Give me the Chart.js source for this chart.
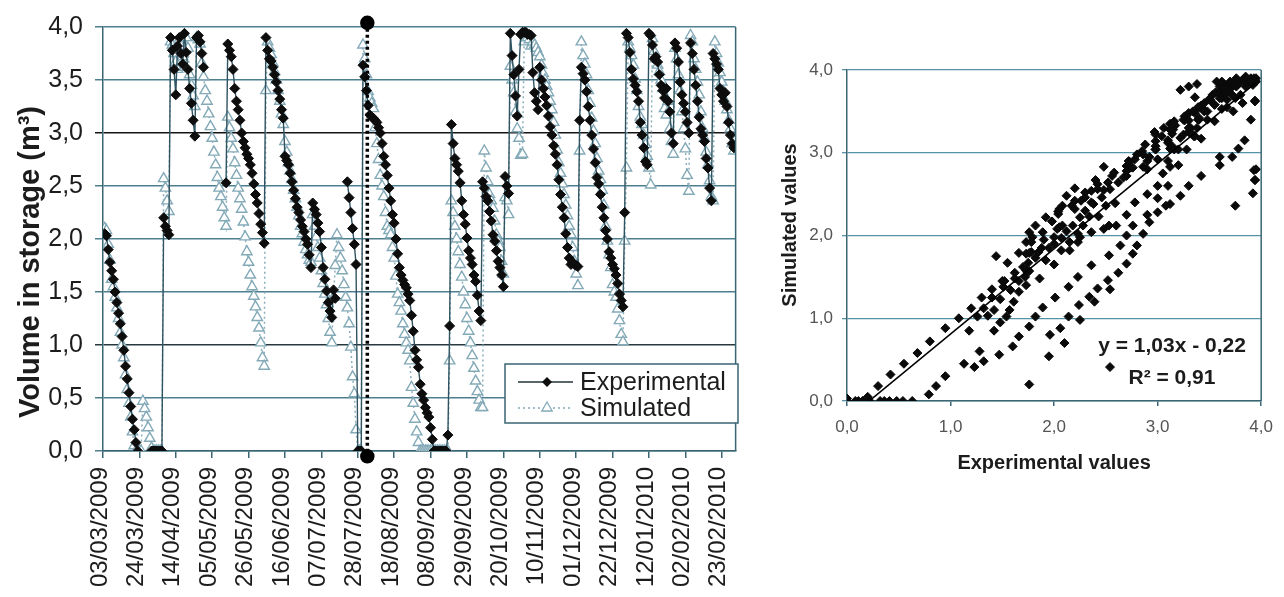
<!DOCTYPE html>
<html>
<head>
<meta charset="utf-8">
<title>Volume in storage</title>
<script src="https://cdn.jsdelivr.net/npm/chart.js@4.4.1/dist/chart.umd.min.js"></script>
<style>
    body { margin: 0; background: #fff; width: 1284px; height: 597px; overflow: hidden; position: relative; }
    #serieCanvas { position: absolute; left: 0; top: 0; }
    #ajusteCanvas { position: absolute; left: 770px; top: 0; }
</style>
</head>
<body>
<canvas id="serieCanvas" width="760" height="597"></canvas>
<canvas id="ajusteCanvas" width="514" height="480"></canvas>
<script>
(() => {

    // x axis labels, one every 21 days starting on 03/03/2009 (day 0)
    const tickLabels = ["03/03/2009", "24/03/2009", "14/04/2009", "05/05/2009", "26/05/2009", "16/06/2009",
        "07/07/2009", "28/07/2009", "18/08/2009", "08/09/2009", "29/09/2009", "20/10/2009",
        "10/11/2009", "01/12/2009", "22/12/2009", "12/01/2010", "02/02/2010", "23/02/2010"];
    const tickStep = 21;

    // daily volume (m3), index = day since 03/03/2009, null = no value
    const expVol = [
        null, 2.05, 2.03, 1.90, 1.78, 1.70, 1.62, 1.50, 1.40, 1.30,   // 0
        1.20, 1.08, 0.95, 0.80, 0.68, 0.55, 0.42, 0.30, 0.20, 0.08,   // 10
        0, null, null, null, null, null, null, null, 0, 0,            // 20
        0, 0, 0, 0, 0, 2.20, 2.12, 2.08, 2.04, 3.90,                  // 30
        3.78, 3.60, 3.36, 3.82, 3.90, 3.75, 3.65, 3.94, 3.76, 3.60,   // 40
        3.42, 3.28, 3.12, 2.97, 3.90, 3.92, 3.86, 3.75, 3.62, null,   // 50
        null, null, null, null, null, null, null, null, null, null,   // 60
        null, 2.53, 3.84, 3.78, 3.72, 3.60, 3.42, 3.30, 3.22, 3.12,   // 70
        3.00, 2.92, 2.86, 2.80, 2.76, 2.70, 2.62, 2.52, 2.42, 2.34,   // 80
        2.24, 2.14, 2.06, 1.96, 3.90, 3.78, 3.70, 3.68, 3.62, 3.55,   // 90
        3.48, 3.40, 3.32, 3.22, 3.14, 2.78, 2.74, 2.70, 2.62, 2.54,   // 100
        2.46, 2.38, 2.30, 2.25, 2.18, 2.12, 2.07, 2.00, 1.95, 1.85,   // 110
        1.73, 2.34, 2.28, 2.23, 2.15, 2.07, 1.92, 1.73, 1.62, 1.51,   // 120
        1.40, 1.32, 1.26, 1.52, 1.44, null, null, null, null, null,   // 130
        null, 2.54, 2.39, 2.25, 2.10, 1.95, 1.76, 0, 0, 0,            // 140
        3.64, 3.53, 3.40, 3.26, 3.17, 3.15, 3.14, 3.12, 3.10, 3.05,   // 150
        3.00, 2.90, 2.78, 2.70, 2.60, 2.48, 2.36, 2.23, 2.15, 2.00,   // 160
        1.86, 1.73, 1.66, 1.61, 1.57, 1.54, 1.48, 1.42, 1.28, 1.13,   // 170
        0.95, 0.86, 0.79, 0.63, 0.54, 0.48, 0.41, 0.36, 0.32, 0.22,   // 180
        0.11, 0, 0, 0, 0, 0, 0, 0, 0, 0.15,                           // 190
        1.18, 3.08, 2.90, 2.76, 2.70, 2.64, 2.53, 2.36, 2.23, 2.14,   // 200
        2.01, 1.89, 1.82, 1.76, 1.66, 1.60, 1.47, 1.32, 1.23, 2.54,   // 210
        2.48, 2.40, 2.36, 2.26, 2.17, 2.04, 1.98, 1.89, 1.79, 1.73,   // 220
        1.66, 1.55, 2.59, 2.50, 2.43, 3.94, 3.73, 3.55, 3.35, 3.16,   // 230
        3.60, 3.93, 3.95, 3.95, 3.95, 3.93, 3.93, 3.92, 3.57, 3.38,   // 240
        3.30, 3.22, 3.62, 3.50, 3.42, 3.34, 3.26, 3.16, 3.06, 2.98,   // 250
        2.88, 2.80, 2.70, 2.56, 2.42, 2.30, 2.20, 2.05, 1.92, 1.82,   // 260
        1.76, 1.78, 1.76, 1.75, 1.74, 3.12, 3.62, 3.56, 3.50, 3.39,   // 270
        3.25, 3.12, 2.98, 2.85, 2.72, 2.58, 2.52, 2.42, 2.30, 2.20,   // 280
        2.08, 2.00, 1.88, 1.82, 1.76, 1.72, 1.66, 1.58, 1.48, 1.42,   // 290
        1.36, 2.25, 3.94, 3.90, 3.76, 3.60, 3.51, 3.45, 3.39, 3.30,   // 300
        3.10, 2.98, 2.86, 2.73, 2.70, 3.94, 3.92, 3.83, 3.70, 3.72,   // 310
        3.67, 3.55, 3.45, 3.40, 3.33, 3.42, 3.30, 3.20, 3.00, 2.90,   // 320
        3.85, 3.80, 3.67, 3.48, 3.36, 3.28, 3.20, 3.10, 3.00, 3.85,   // 330
        3.75, 3.60, 3.45, 3.30, 3.15, 3.04, 2.98, 2.92, 2.76, 2.67,   // 340
        2.48, 2.36, 3.75, 3.70, 3.65, 3.60, 3.42, 3.36, 3.30, 3.38,   // 350
        3.25, 3.10, 2.98, 2.90, 2.86                                  // 360
    ];

    const simVol = [
        null, 2.10, 2.08, 1.95, 1.80, 1.62, 1.55, 1.45, 1.35, 1.25,   // 0
        1.12, 1.00, 0.88, 0.72, 0.58, 0.45, 0.32, 0.18, 0.05, 0,      // 10
        0, 0, 0, 0.47, 0.40, 0.32, 0.22, 0.12, 0.03, 0,               // 20
        0, 0, 0, 0, 0, 2.57, 2.48, 2.36, 2.26, 3.86,                  // 30
        3.83, 3.75, 3.67, 3.60, 3.88, 3.82, 3.72, 3.62, 3.90, 3.80,   // 40
        3.55, 3.45, 3.35, 3.25, 3.90, 3.88, 3.84, 3.66, 3.53, 3.40,   // 50
        3.30, 3.18, 3.06, 2.95, 2.82, 2.70, 2.58, 2.48, 2.40, 2.30,   // 60
        2.20, 2.12, 3.15, 3.05, 2.95, 2.85, 2.72, 2.60, 2.48, 2.38,   // 70
        2.28, 2.16, 2.02, 1.88, 1.78, 1.66, 1.55, 1.46, 1.36, 1.26,   // 80
        1.16, 1.02, 0.88, 0.80, 3.40, 3.86, 3.80, 3.74, 3.66, 3.58,   // 90
        3.50, 3.40, 3.30, 3.18, 3.08, 2.92, 2.82, 2.72, 2.64, 2.56,   // 100
        2.46, 2.38, 2.30, 2.22, 2.12, 2.05, 1.97, 1.90, 1.85, 1.80,   // 110
        1.78, 2.23, 2.12, 2.02, 1.92, 1.82, 1.70, 1.58, 1.48, 1.38,   // 120
        1.25, 1.12, 1.02, 1.45, 1.75, 2.04, 1.92, 1.82, 1.70, 1.57,   // 130
        1.45, 1.35, 1.20, 0.98, 0.70, 0.54, 0.20, 0, 0, 0,            // 140
        3.83, 3.70, 3.55, 3.39, 3.33, 3.28, 3.23, 3.05, 2.90, 2.75,   // 150
        2.60, 2.50, 2.40, 2.25, 2.12, 2.08, 2.04, 1.92, 1.82, 1.65,   // 160
        1.48, 1.40, 1.32, 1.20, 1.10, 1.02, 0.95, 0.85, 0.60, 0.45,   // 170
        0.30, 0.18, 0.08, 0, 0, 0, 0, 0, 0, 0,                        // 180
        0, 0, 0, 0, 0, 0, 0, 0, 0, 0,                                 // 190
        0.85, 2.36, 2.25, 2.12, 2.00, 1.88, 1.76, 1.64, 1.50, 1.38,   // 200
        1.25, 1.13, 1.02, 0.90, 0.78, 0.66, 0.56, 0.48, 0.41, 0.41,   // 210
        2.83, 2.67, 2.54, 2.42, 2.36, 2.29, 2.17, 2.04, 1.98, 1.92,   // 220
        1.79, 1.67, 2.39, 2.36, 2.23, 3.63, 3.50, 3.38, 3.20, 3.04,   // 230
        2.95, 2.79, 2.80, 3.86, 3.90, 3.90, 3.88, 3.82, 3.86, 3.83,   // 240
        3.80, 3.76, 3.72, 3.64, 3.56, 3.50, 3.44, 3.38, 3.30, 3.22,   // 250
        3.10, 2.98, 2.84, 2.72, 2.62, 2.52, 2.42, 2.32, 2.22, 2.12,   // 260
        2.04, 1.92, 1.79, 1.67, 1.56, 2.83, 3.86, 3.73, 3.65, 3.55,   // 270
        3.40, 3.28, 3.14, 3.02, 2.90, 2.76, 2.64, 2.56, 2.46, 2.32,   // 280
        2.12, 1.98, 1.85, 1.73, 1.57, 1.50, 1.45, 1.34, 1.23, 1.10,   // 290
        1.03, 1.98, 2.67, 3.86, 3.80, 3.73, 3.64, 3.51, 3.40, 3.25,   // 300
        3.15, 3.08, 2.98, 2.89, 2.78, 2.67, 2.51, 3.89, 3.77, 3.70,   // 310
        3.64, 3.58, 3.50, 3.42, 3.23, 3.17, 3.30, 3.04, 2.92, 2.80,   // 320
        3.80, 3.70, 3.55, 3.40, 3.20, 3.04, 2.85, 2.60, 2.45, 3.92,   // 330
        3.86, 3.70, 3.60, 3.48, 3.36, 3.20, 3.04, 2.95, 2.82, 2.70,   // 340
        2.55, 2.40, 2.36, 3.86, 3.75, 3.66, 3.57, 3.48, 3.39, 3.30,   // 350
        3.22, 3.12, 3.04, 2.90, 2.83                                  // 360
    ];

    // dotted vertical mark near 02/08/2009
    const markDay = 152.5;
    const markLow = -0.05;
    const markHigh = 4.04;

    // trend line of the right chart, as printed on it
    const trendSlope = 1.03;
    const trendIntercept = -0.22;
    const trendR2 = 0.91;
    const trendFrom = 0.21;
    const trendTo = 3.95;

    const fontFamily = "'Liberation Sans', Arial, sans-serif";
    const axisColor = '#3a6674';
    const textColor = '#1c1c1c';

    Chart.defaults.font.family = fontFamily;
    Chart.defaults.animation = false;
    Chart.defaults.devicePixelRatio = 1;

    const comma = (v, d) => v.toFixed(d).replace('.', ',');

    function toPoints(values) {
        return values.map((v, dia) => ({ x: dia, y: v }));
    }

    function drawDiamond(ctx, x, y, r) {
        ctx.beginPath();
        ctx.moveTo(x, y - r);
        ctx.lineTo(x + r, y);
        ctx.lineTo(x, y + r);
        ctx.lineTo(x - r, y);
        ctx.closePath();
        ctx.fill();
    }

    function drawTriangle(ctx, x, y, r) {
        ctx.beginPath();
        ctx.moveTo(x, y - r);
        ctx.lineTo(x + r * 0.87, y + r * 0.5);
        ctx.lineTo(x - r * 0.87, y + r * 0.5);
        ctx.closePath();
        ctx.fill();
        ctx.stroke();
    }

    function rotatedText(ctx, text, x, y, font) {
        ctx.save();
        ctx.translate(x, y);
        ctx.rotate(-Math.PI / 2);
        ctx.font = font;
        ctx.fillStyle = textColor;
        ctx.textAlign = 'center';
        ctx.textBaseline = 'middle';
        ctx.fillText(text, 0, 0);
        ctx.restore();
    }

    const serieDecor = {
        id: 'serieDecor',
        afterDraw(chart) {
            const { ctx, chartArea } = chart;

            ctx.save();
            ctx.strokeStyle = axisColor;
            ctx.lineWidth = 1.5;
            ctx.beginPath();
            ctx.moveTo(chartArea.right, chartArea.top);
            ctx.lineTo(chartArea.right, chartArea.bottom);
            ctx.stroke();
            ctx.restore();

            rotatedText(ctx, 'Volume in storage (m³)', 31, 262, `bold 29px ${fontFamily}`);

            // legend box
            ctx.save();
            ctx.fillStyle = '#ffffff';
            ctx.fillRect(505, 364, 233, 59);
            ctx.strokeStyle = axisColor;
            ctx.lineWidth = 1.5;
            ctx.strokeRect(505, 364, 233, 59);

            ctx.strokeStyle = '#22343a';
            ctx.lineWidth = 1.3;
            ctx.beginPath();
            ctx.moveTo(518, 382);
            ctx.lineTo(573, 382);
            ctx.stroke();
            ctx.fillStyle = '#0d0d0d';
            drawDiamond(ctx, 547, 382, 5);

            ctx.strokeStyle = '#84aab8';
            ctx.lineWidth = 1.5;
            ctx.setLineDash([2, 3]);
            ctx.beginPath();
            ctx.moveTo(518, 408);
            ctx.lineTo(573, 408);
            ctx.stroke();
            ctx.setLineDash([]);
            ctx.fillStyle = '#ffffff';
            ctx.lineWidth = 1.3;
            drawTriangle(ctx, 547, 408, 6);

            ctx.fillStyle = textColor;
            ctx.font = `25px ${fontFamily}`;
            ctx.textAlign = 'left';
            ctx.textBaseline = 'alphabetic';
            ctx.fillText('Experimental', 580, 390);
            ctx.fillText('Simulated', 580, 416);
            ctx.restore();
        }
    };

    const ajusteDecor = {
        id: 'ajusteDecor',
        afterDraw(chart) {
            const { ctx, chartArea } = chart;

            ctx.save();
            ctx.strokeStyle = axisColor;
            ctx.lineWidth = 1.5;
            ctx.beginPath();
            ctx.moveTo(chartArea.right, chartArea.top);
            ctx.lineTo(chartArea.right, chartArea.bottom);
            ctx.stroke();

            ctx.fillStyle = textColor;
            ctx.font = `bold 20px ${fontFamily}`;
            ctx.textAlign = 'center';
            ctx.textBaseline = 'alphabetic';
            ctx.fillText('Experimental values', (chartArea.left + chartArea.right) / 2, 469);

            ctx.font = `bold 21px ${fontFamily}`;
            ctx.fillText(`y = ${comma(trendSlope, 2)}x - ${comma(-trendIntercept, 2)}`, 402, 352);
            ctx.fillText(`R² = ${comma(trendR2, 2)}`, 402, 384);
            ctx.restore();

            rotatedText(ctx, 'Simulated values', 20, 225, `bold 20px ${fontFamily}`);
        }
    };

    function crearGraficaSerie() {
        const ctx = document.getElementById('serieCanvas');

        new Chart(ctx, {
            type: 'line',
            data: {
                datasets: [
                    {
                        label: 'mark',
                        data: [{ x: markDay, y: markHigh }, { x: markDay, y: markLow }],
                        borderColor: '#000000',
                        borderWidth: 3.5,
                        borderDash: [3, 3],
                        pointStyle: 'circle',
                        pointRadius: 5.5,
                        pointBackgroundColor: '#000000',
                        pointBorderColor: '#000000',
                        clip: false,
                        order: 0
                    },
                    {
                        label: 'Experimental',
                        data: toPoints(expVol),
                        borderColor: '#2f5360',
                        borderWidth: 1.4,
                        pointStyle: 'rectRot',
                        pointRadius: 5,
                        pointBackgroundColor: '#0d0d0d',
                        pointBorderColor: '#0d0d0d',
                        pointBorderWidth: 1,
                        spanGaps: false,
                        order: 1
                    },
                    {
                        label: 'Simulated',
                        data: toPoints(simVol),
                        borderColor: '#8aaebb',
                        borderWidth: 1.5,
                        borderDash: [2, 3],
                        pointStyle: 'triangle',
                        pointRadius: 6,
                        pointBackgroundColor: '#ffffff',
                        pointBorderColor: '#84aab8',
                        pointBorderWidth: 1.4,
                        spanGaps: false,
                        order: 2
                    }
                ]
            },
            options: {
                responsive: false,
                layout: { padding: { top: 25, right: 20, left: 0, bottom: 0 } },
                plugins: {
                    legend: { display: false },
                    tooltip: { enabled: false }
                },
                scales: {
                    x: {
                        type: 'linear',
                        min: 0,
                        max: 365,
                        afterBuildTicks: (axis) => {
                            axis.ticks = tickLabels.map((_, i) => ({ value: i * tickStep }));
                        },
                        afterFit: (axis) => { axis.height = 146; },
                        ticks: {
                            autoSkip: false,
                            minRotation: 90,
                            maxRotation: 90,
                            padding: 9,
                            labelOffset: -3,
                            color: textColor,
                            font: { size: 24 },
                            callback: (value, index) => tickLabels[index]
                        },
                        grid: {
                            drawOnChartArea: false,
                            drawTicks: true,
                            tickLength: 7,
                            color: axisColor,
                            lineWidth: 1.5
                        },
                        border: { display: true, color: axisColor, width: 1.5 }
                    },
                    y: {
                        min: 0,
                        max: 4,
                        afterFit: (axis) => { axis.width = 103; },
                        ticks: {
                            stepSize: 0.5,
                            padding: 12,
                            color: textColor,
                            font: { size: 25 },
                            callback: (value) => comma(value, 1)
                        },
                        grid: {
                            tickLength: 8,
                            lineWidth: 1.5,
                            color: (c) => {
                                if (c.tick.value === 3) return '#151515';
                                if (c.tick.value === 1) return '#27383e';
                                return '#4d7f8f';
                            }
                        },
                        border: { display: true, color: axisColor, width: 1.5 }
                    }
                }
            },
            plugins: [serieDecor]
        });
    }

    function crearGraficaAjuste() {
        const ctx = document.getElementById('ajusteCanvas');

        const pares = [];
        expVol.forEach((v, dia) => {
            if (v !== null && simVol[dia] !== null) {
                pares.push({ x: v, y: simVol[dia] });
            }
        });

        new Chart(ctx, {
            type: 'scatter',
            data: {
                datasets: [
                    {
                        label: 'Trend',
                        data: [
                            { x: trendFrom, y: trendSlope * trendFrom + trendIntercept },
                            { x: trendTo, y: trendSlope * trendTo + trendIntercept }
                        ],
                        showLine: true,
                        borderColor: '#000000',
                        borderWidth: 1.6,
                        pointRadius: 0,
                        order: 0
                    },
                    {
                        label: 'Simulated vs experimental',
                        data: pares,
                        pointStyle: 'rectRot',
                        pointRadius: 4.5,
                        pointBackgroundColor: '#0a0a0a',
                        pointBorderColor: '#0a0a0a',
                        pointBorderWidth: 1,
                        order: 1
                    }
                ]
            },
            options: {
                responsive: false,
                layout: { padding: { top: 70, right: 19, left: 0, bottom: 0 } },
                plugins: {
                    legend: { display: false },
                    tooltip: { enabled: false }
                },
                scales: {
                    x: {
                        type: 'linear',
                        min: 0,
                        max: 4,
                        afterFit: (axis) => { axis.height = 79; },
                        ticks: {
                            stepSize: 1,
                            padding: 11,
                            color: '#555555',
                            font: { size: 17 },
                            callback: (value) => comma(value, 1)
                        },
                        grid: {
                            drawOnChartArea: false,
                            tickLength: 5,
                            color: axisColor,
                            lineWidth: 1.5
                        },
                        border: { display: true, color: axisColor, width: 1.5 }
                    },
                    y: {
                        min: 0,
                        max: 4,
                        afterFit: (axis) => { axis.width = 77; },
                        ticks: {
                            stepSize: 1,
                            padding: 9,
                            color: '#555555',
                            font: { size: 17 },
                            callback: (value) => comma(value, 1)
                        },
                        grid: {
                            tickLength: 5,
                            color: '#5592a6',
                            lineWidth: 1.3
                        },
                        border: { display: true, color: axisColor, width: 1.5 }
                    }
                }
            },
            plugins: [ajusteDecor]
        });
    }

    crearGraficaSerie();
    crearGraficaAjuste();

})();
</script>
</body>
</html>
